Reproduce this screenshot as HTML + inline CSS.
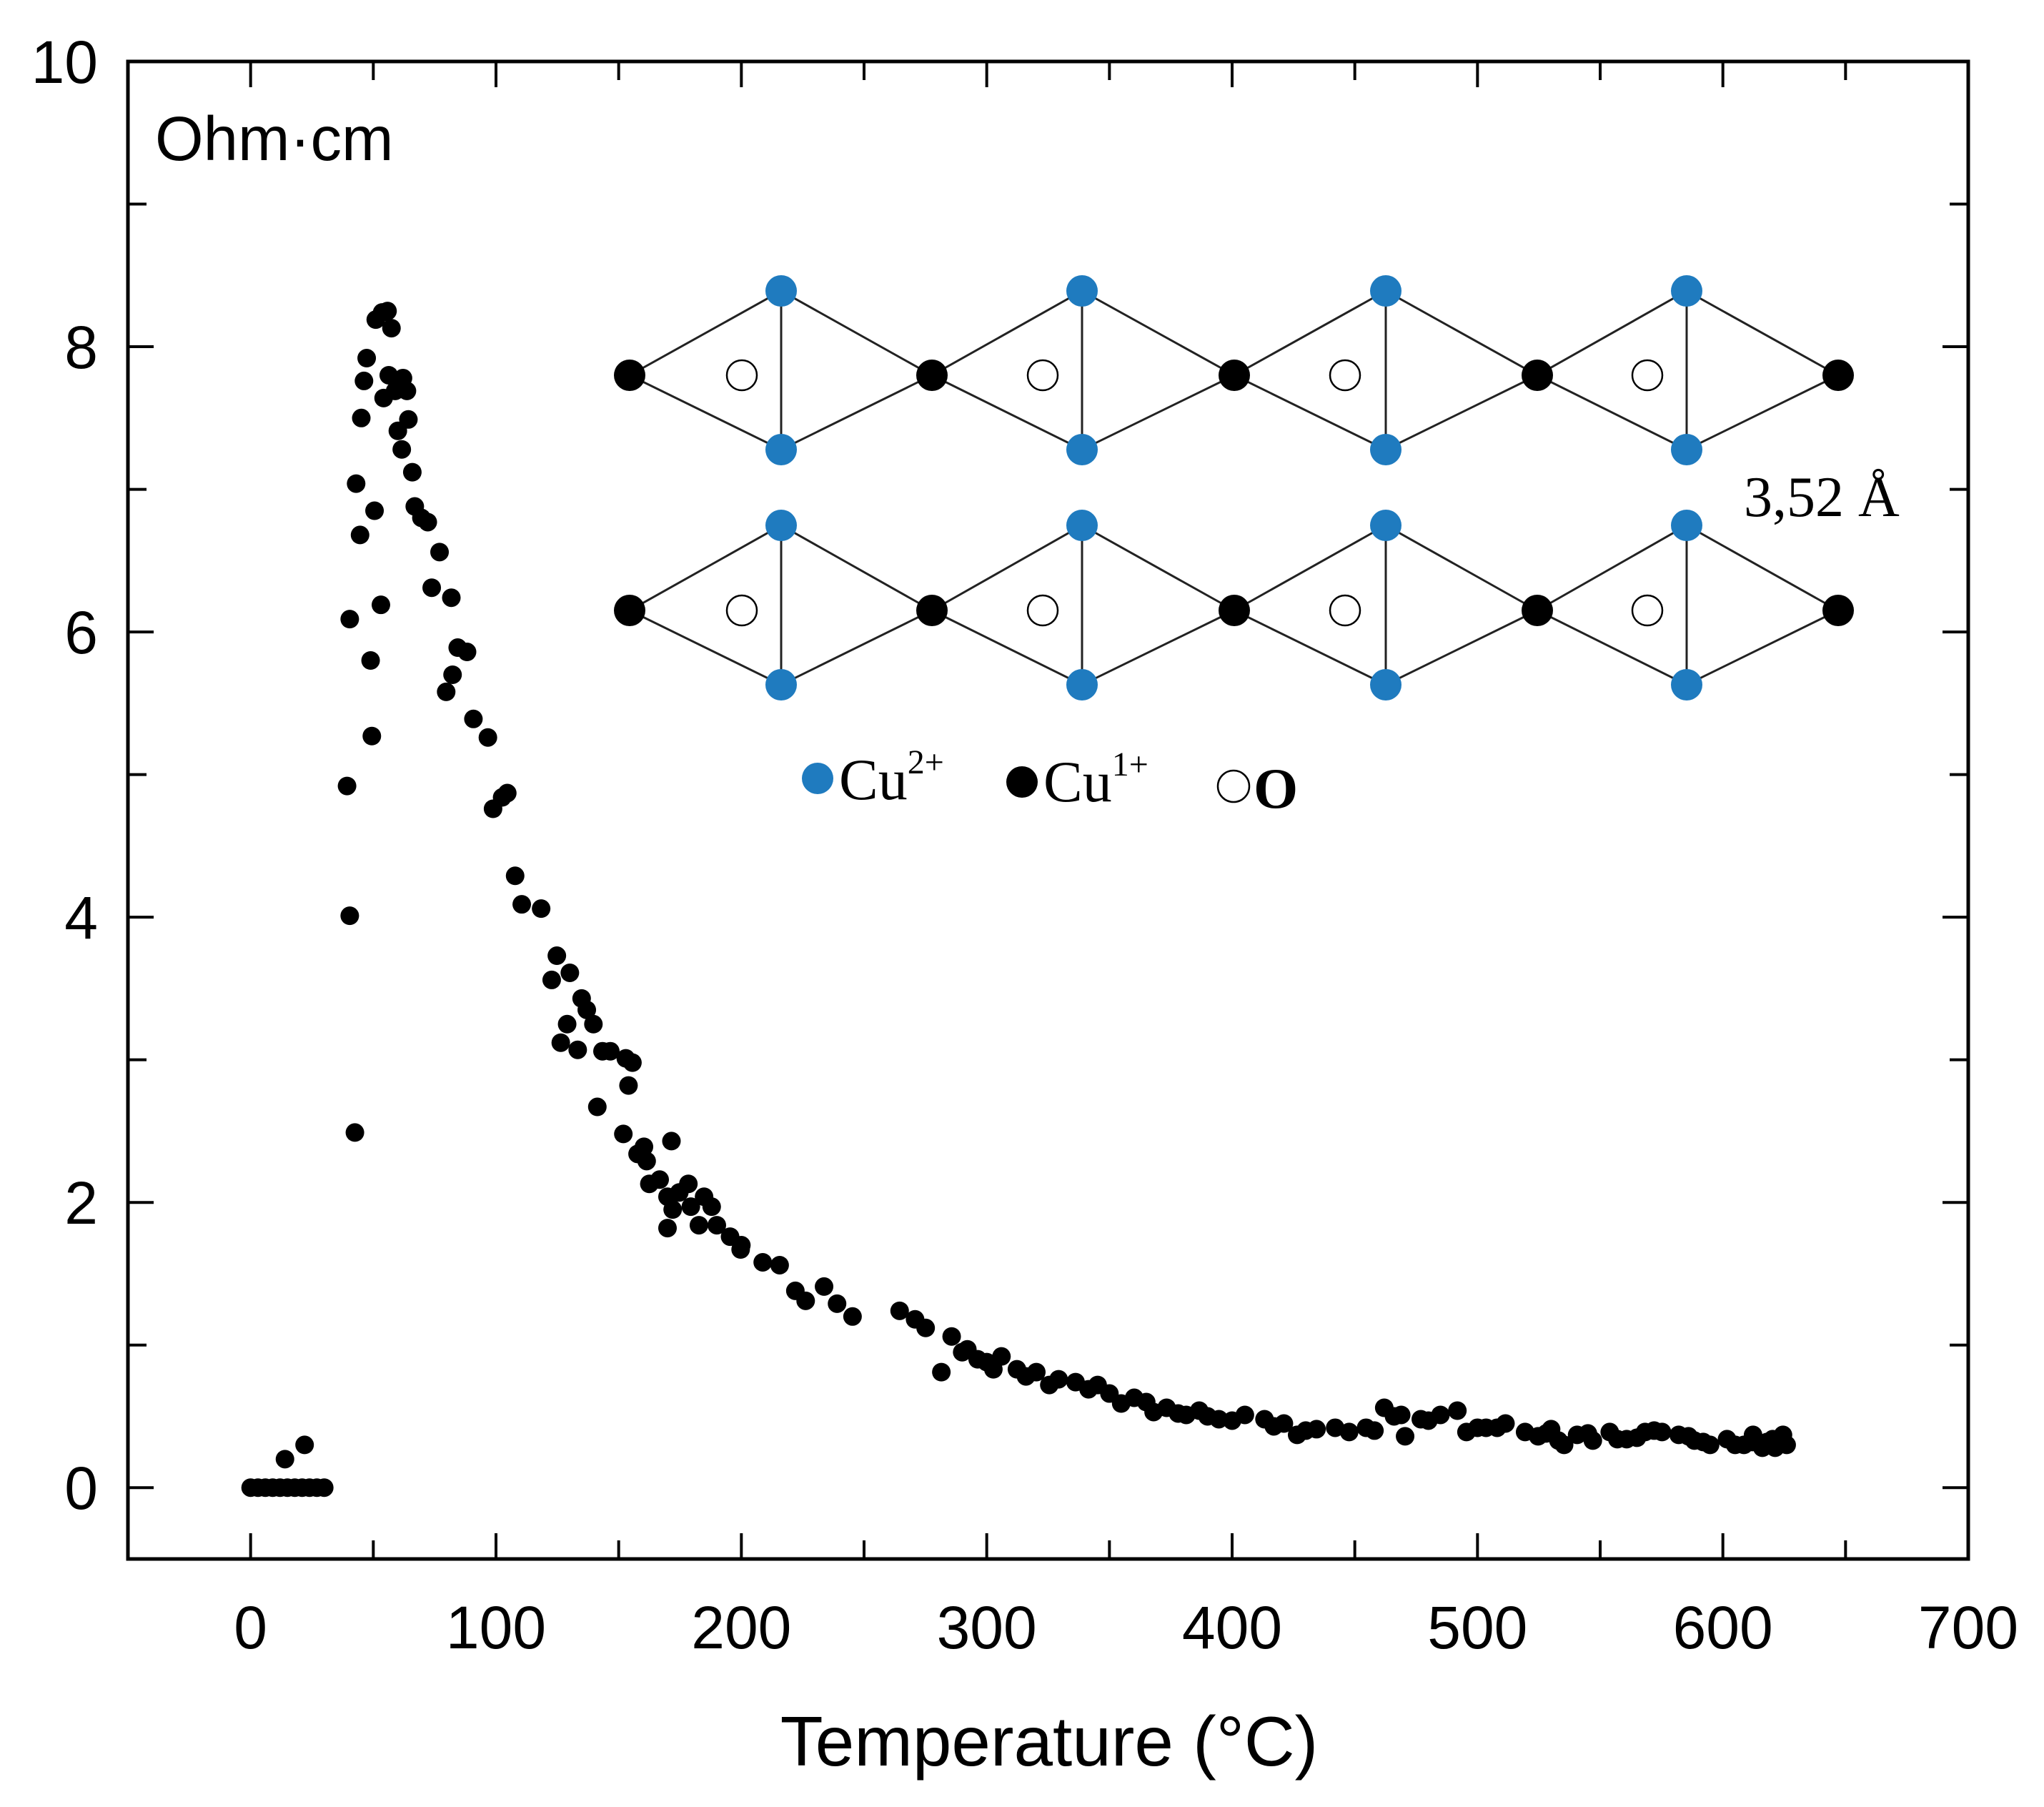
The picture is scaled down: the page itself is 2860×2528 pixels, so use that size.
<!DOCTYPE html>
<html><head><meta charset="utf-8"><style>
html,body{margin:0;padding:0;background:#fff}
svg{display:block}
text{font-family:"Liberation Sans",Arial,sans-serif}
.ser{font-family:"Liberation Serif","Times New Roman",serif}
</style></head><body>
<svg id="chart" width="2860" height="2528" viewBox="0 0 2860 2528" xmlns="http://www.w3.org/2000/svg">
<rect width="2860" height="2528" fill="#fff"/>
<g id="points"></g>
<g id="axes"></g>
<text x="217" y="224" font-size="87">Ohm·cm</text>
<text x="1468" y="2470" font-size="98" text-anchor="middle">Temperature (°C)</text>
<g id="inset"></g>
<text class="ser" x="2440" y="722" font-size="80">3,52 Å</text>
<g>
<circle cx="1144" cy="1089" r="22" fill="#1f7bbf"/>
<text class="ser" x="1174" y="1118" font-size="82">Cu<tspan font-size="48" dy="-36">2+</tspan></text>
<circle cx="1430" cy="1094" r="22" fill="#000"/>
<text class="ser" x="1460" y="1121" font-size="82">Cu<tspan font-size="48" dy="-36">1+</tspan></text>
<circle cx="1726" cy="1100" r="22" fill="#fff" stroke="#000" stroke-width="2.5"/>
<text class="ser" x="1754" y="1130" font-size="80" font-weight="bold">O</text>
</g>
</svg>
<script>
const temps = [0,3,6,9,12,15,18,21,24,27,30,14,22,
42.5,40.4,39.3,40.4,43,44.6,45.1,46.2,47.3,48.9,49.4,50.5,53.1,51,53.6,55.8,57.4,54.2,56.3,58.9,60,62.1,63.7,64.3,61.6,65.9,66.9,69.6,72.2,73.8,77,79.7,81.8,82.3,84.4,88.2,90.8,96.7,98.8,102.5,104.6,107.8,110.5,118.4,124.8,122.7,130.1,126.4,129,133.3,134.9,137,139.7,143.4,146.6,141.3,152.9,154,155.6,151.9,157.7,160.3,161.4,162.5,166.7,169.9,171.5,169.9,174.7,178.4,179.4,182.7,184.8,187.9,190,195.4,199.7,208.7,215.6,222,226.2,233.7,239,245.3,264.5,270.8,275.1,281.5,285.7,292.1,296.3,302.7,306,312.3,320.2,325.5,329.3,336.2,341.5,345.2,354.8,360.1,368,373.3,381.3,386.6,394.6,405.2,413.2,421.1,426.5,434.4,447.7,454.6,462,468.9,470.5,476.9,484.9,491.8,495.5,503.5,511.4,519.4,524.7,530,535.3,540.6,547,553.9,560.8,568.3,575.2,582,588.4,594.8,601.7,608.6,612.3,616.1,620.3,624.5,621.3,
172,200,290,300,316,350,365,378,390,400,417,430,442,458,466,480,500,508,528,533,545,557,565,572,586,592,605,612,618,626];
const resist = [0,0,0,0,0,0,0,0,0,0,0,0.2,0.3,
2.49,4.01,4.92,6.09,7.04,6.68,7.5,7.76,7.92,5.8,5.27,6.85,6.19,8.19,8.24,8.25,8.13,7.64,7.8,7.69,7.41,7.78,7.69,7.49,7.28,7.12,6.88,6.8,6.77,6.31,6.56,5.58,6.24,5.7,5.89,5.86,5.39,5.26,4.76,4.84,4.87,4.29,4.09,4.06,3.73,3.56,3.61,3.12,3.25,3.07,3.43,3.35,3.25,3.06,3.06,2.67,3.01,2.82,2.98,2.48,2.34,2.39,2.29,2.13,2.16,2.04,2.43,1.82,2.07,2.13,1.97,1.84,2.04,1.97,1.84,1.76,1.67,1.58,1.56,1.38,1.31,1.41,1.29,1.2,1.24,1.18,1.12,0.81,1.06,0.97,0.9,0.83,0.92,0.83,0.81,0.72,0.76,0.74,0.69,0.72,0.59,0.63,0.53,0.56,0.51,0.54,0.48,0.51,0.48,0.45,0.37,0.41,0.39,0.42,0.56,0.51,0.36,0.48,0.51,0.54,0.39,0.42,0.45,0.39,0.36,0.41,0.3,0.37,0.33,0.39,0.34,0.39,0.39,0.37,0.33,0.3,0.34,0.3,0.37,0.28,0.34,0.37,0.28,
1.95,1.7,0.95,0.88,0.78,0.66,0.6,0.52,0.5,0.47,0.43,0.4,0.42,0.4,0.5,0.47,0.42,0.42,0.38,0.33,0.38,0.34,0.35,0.4,0.36,0.32,0.3,0.32,0.32,0.3];
const xTicks = [0,100,200,300,400,500,600,700];
const yTicks = [0,2,4,6,8,10];
const NS="http://www.w3.org/2000/svg";
const L=179,R=2754,T=86,B=2181;
const xMin=-50,xMax=700,yMin=-0.5,yMax=10;
const sx=v=>L+(v-xMin)/(xMax-xMin)*(R-L);
const sy=v=>B-(v-yMin)/(yMax-yMin)*(B-T);
function mk(tag,attrs,parent){const e=document.createElementNS(NS,tag);for(const k in attrs)e.setAttribute(k,attrs[k]);parent.appendChild(e);return e;}
const pg=document.getElementById('points');
for(let i=0;i<temps.length;i++){
  const c=mk('circle',{cx:sx(temps[i]),cy:sy(resist[i]),r:13,fill:'#000'},pg);
  
  
}
const ag=document.getElementById('axes');
const fr=mk('rect',{x:L,y:T,width:R-L,height:B-T,fill:'none',stroke:'#000','stroke-width':5},ag);


for(let v=0;v<=700;v+=50){
  const len=(v%100===0)?36:26;
  mk('line',{x1:sx(v),x2:sx(v),y1:B,y2:B-len,stroke:'#000','stroke-width':4},ag);
  mk('line',{x1:sx(v),x2:sx(v),y1:T,y2:T+len,stroke:'#000','stroke-width':4},ag);
}
for(let v=0;v<=10;v+=1){
  const len=(v%2===0)?36:26;
  mk('line',{x1:L,x2:L+len,y1:sy(v),y2:sy(v),stroke:'#000','stroke-width':4},ag);
  mk('line',{x1:R,x2:R-len,y1:sy(v),y2:sy(v),stroke:'#000','stroke-width':4},ag);
}
xTicks.forEach(v=>{
  const t=mk('text',{x:sx(v),y:2306,'font-size':84,'text-anchor':'middle'},ag);
  t.textContent=v;
  
  
});
yTicks.forEach(v=>{
  const t=mk('text',{x:137,y:sy(v)+30,'font-size':84,'text-anchor':'end'},ag);
  t.textContent=v;
  
  
});
const ig=document.getElementById('inset');
const blackX=[881,1304,1727,2151,2572];
const blueX=[1093,1514,1939,2360];
const openX=[1038,1459,1882,2305];
const rows=[{c:525,t:407,b:629},{c:854,t:735,b:958}];
rows.forEach(r=>{
  for(let i=0;i<4;i++){
    const a=blackX[i],bx=blueX[i],n=blackX[i+1];
    const p=mk('polygon',{points:`${a},${r.c} ${bx},${r.t} ${n},${r.c} ${bx},${r.b}`,fill:'none',stroke:'#222','stroke-width':3},ig);
    
    
    mk('line',{x1:bx,x2:bx,y1:r.t,y2:r.b,stroke:'#222','stroke-width':3},ig);
  }
  openX.forEach(x=>{
    const c=mk('circle',{cx:x,cy:r.c,r:21,fill:'#fff',stroke:'#000','stroke-width':2.5},ig);
    
    
  });
  blueX.forEach(x=>{
    [r.t,r.b].forEach(y=>{
      const c=mk('circle',{cx:x,cy:y,r:22,fill:'#1f7bbf'},ig);
      
      
    });
  });
  blackX.forEach(x=>{
    const c=mk('circle',{cx:x,cy:r.c,r:22,fill:'#000'},ig);
    
    
  });
});
</script>
</body></html>
